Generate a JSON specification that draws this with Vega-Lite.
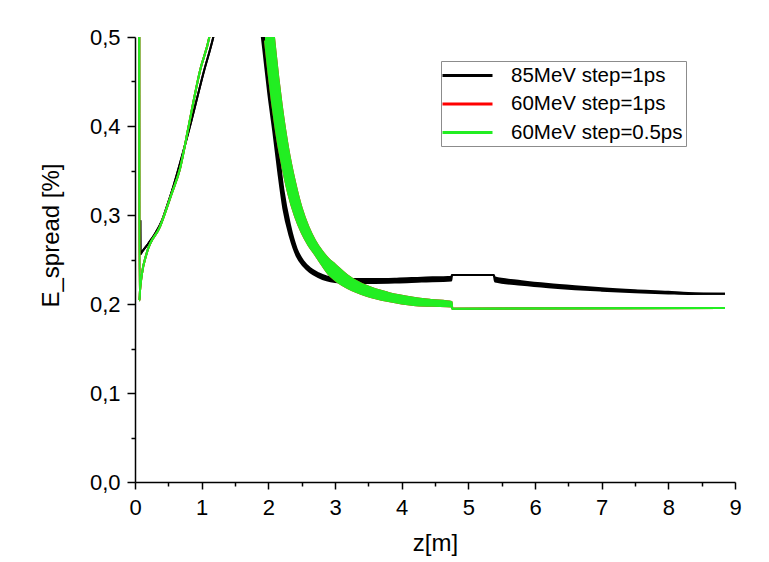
{
  "$schema": "https://vega.github.io/schema/vega-lite/v6.json",
  "width": 600,
  "height": 445,
  "autosize": {"type": "none"},
  "padding": {"left": 135, "top": 37, "right": 34, "bottom": 80},
  "background": "white",
  "config": {
    "view": {"stroke": null},
    "font": "Liberation Sans",
    "axis": {"grid": false, "domainColor": "#000", "domainWidth": 1.5, "tickColor": "#000", "tickWidth": 1.5, "labelColor": "#000", "titleColor": "#000", "labelFont": "Liberation Sans", "titleFont": "Liberation Sans", "titleFontWeight": "normal", "labelFontSize": 22, "titleFontSize": 24, "labelFlush": false},
    "legend": {"orient": "none", "legendX": 306, "legendY": 24, "symbolType": "M-2.5,0H2.5", "symbolStrokeWidth": 3, "symbolSize": 400, "labelFontSize": 20.5, "labelFont": "Liberation Sans", "labelColor": "#000", "labelLimit": 0, "strokeColor": "#8c8c8c", "fillColor": "#fff", "padding": 3, "rowPadding": 6.5, "labelOffset": 32, "symbolOffset": 12}
  },
  "datasets": {
    "d": [
      {"s": "85MeV step=1ps", "b": "L", "z": 0.08, "lo": 0.294, "hi": 0.294},
      {"s": "85MeV step=1ps", "b": "L", "z": 0.083, "lo": 0.256, "hi": 0.256},
      {"s": "85MeV step=1ps", "b": "L", "z": 0.1, "lo": 0.258, "hi": 0.258},
      {"s": "85MeV step=1ps", "b": "L", "z": 0.2, "lo": 0.268, "hi": 0.268},
      {"s": "85MeV step=1ps", "b": "L", "z": 0.3, "lo": 0.279, "hi": 0.279},
      {"s": "85MeV step=1ps", "b": "L", "z": 0.4, "lo": 0.293, "hi": 0.293},
      {"s": "85MeV step=1ps", "b": "L", "z": 0.475, "lo": 0.309, "hi": 0.309},
      {"s": "85MeV step=1ps", "b": "L", "z": 0.575, "lo": 0.332, "hi": 0.332},
      {"s": "85MeV step=1ps", "b": "L", "z": 0.675, "lo": 0.358, "hi": 0.358},
      {"s": "85MeV step=1ps", "b": "L", "z": 0.85, "lo": 0.407, "hi": 0.407},
      {"s": "85MeV step=1ps", "b": "L", "z": 1.025, "lo": 0.459, "hi": 0.459},
      {"s": "85MeV step=1ps", "b": "L", "z": 1.175, "lo": 0.5, "hi": 0.5},
      {"s": "85MeV step=1ps", "b": "L", "z": 1.2, "lo": 0.508, "hi": 0.508},
      {"s": "85MeV step=1ps", "b": "R", "z": 1.9, "lo": 0.5015, "hi": 0.5305},
      {"s": "85MeV step=1ps", "b": "R", "z": 1.925, "lo": 0.4855, "hi": 0.5145},
      {"s": "85MeV step=1ps", "b": "R", "z": 2.0, "lo": 0.436, "hi": 0.464},
      {"s": "85MeV step=1ps", "b": "R", "z": 2.075, "lo": 0.3935, "hi": 0.4205},
      {"s": "85MeV step=1ps", "b": "R", "z": 2.15, "lo": 0.3475, "hi": 0.3745},
      {"s": "85MeV step=1ps", "b": "R", "z": 2.225, "lo": 0.3072, "hi": 0.3288},
      {"s": "85MeV step=1ps", "b": "R", "z": 2.325, "lo": 0.2752, "hi": 0.2888},
      {"s": "85MeV step=1ps", "b": "R", "z": 2.425, "lo": 0.2539, "hi": 0.2621},
      {"s": "85MeV step=1ps", "b": "R", "z": 2.525, "lo": 0.2428, "hi": 0.2482},
      {"s": "85MeV step=1ps", "b": "R", "z": 2.625, "lo": 0.2358, "hi": 0.2404},
      {"s": "85MeV step=1ps", "b": "R", "z": 2.75, "lo": 0.2303, "hi": 0.2347},
      {"s": "85MeV step=1ps", "b": "R", "z": 2.875, "lo": 0.2266, "hi": 0.231},
      {"s": "85MeV step=1ps", "b": "R", "z": 3.0, "lo": 0.2248, "hi": 0.2292},
      {"s": "85MeV step=1ps", "b": "R", "z": 3.275, "lo": 0.2236, "hi": 0.228},
      {"s": "85MeV step=1ps", "b": "R", "z": 3.6, "lo": 0.2236, "hi": 0.228},
      {"s": "85MeV step=1ps", "b": "R", "z": 3.925, "lo": 0.2241, "hi": 0.2285},
      {"s": "85MeV step=1ps", "b": "R", "z": 4.3, "lo": 0.2252, "hi": 0.2296},
      {"s": "85MeV step=1ps", "b": "R", "z": 4.745, "lo": 0.2263, "hi": 0.2307},
      {"s": "85MeV step=1ps", "b": "R", "z": 4.755, "lo": 0.2326, "hi": 0.2326},
      {"s": "85MeV step=1ps", "b": "R", "z": 5.38, "lo": 0.2326, "hi": 0.2326},
      {"s": "85MeV step=1ps", "b": "R", "z": 5.4, "lo": 0.2253, "hi": 0.2297},
      {"s": "85MeV step=1ps", "b": "R", "z": 5.8, "lo": 0.2217, "hi": 0.2257},
      {"s": "85MeV step=1ps", "b": "R", "z": 6.2, "lo": 0.2189, "hi": 0.2225},
      {"s": "85MeV step=1ps", "b": "R", "z": 6.6, "lo": 0.2167, "hi": 0.2199},
      {"s": "85MeV step=1ps", "b": "R", "z": 7.0, "lo": 0.215, "hi": 0.2176},
      {"s": "85MeV step=1ps", "b": "R", "z": 7.5, "lo": 0.2132, "hi": 0.2154},
      {"s": "85MeV step=1ps", "b": "R", "z": 8.0, "lo": 0.2119, "hi": 0.2137},
      {"s": "85MeV step=1ps", "b": "R", "z": 8.3, "lo": 0.2113, "hi": 0.2123},
      {"s": "85MeV step=1ps", "b": "R", "z": 8.85, "lo": 0.2115, "hi": 0.2115},

      {"s": "60MeV step=1ps", "b": "L", "z": 0.064, "lo": 0.5, "hi": 0.5},
      {"s": "60MeV step=1ps", "b": "L", "z": 0.066, "lo": 0.204, "hi": 0.204},
      {"s": "60MeV step=1ps", "b": "L", "z": 0.075, "lo": 0.215, "hi": 0.215},
      {"s": "60MeV step=1ps", "b": "L", "z": 0.1, "lo": 0.232, "hi": 0.232},
      {"s": "60MeV step=1ps", "b": "L", "z": 0.175, "lo": 0.257, "hi": 0.257},
      {"s": "60MeV step=1ps", "b": "L", "z": 0.375, "lo": 0.287, "hi": 0.287},
      {"s": "60MeV step=1ps", "b": "L", "z": 0.55, "lo": 0.324, "hi": 0.324},
      {"s": "60MeV step=1ps", "b": "L", "z": 0.675, "lo": 0.352, "hi": 0.352},
      {"s": "60MeV step=1ps", "b": "L", "z": 0.8, "lo": 0.398, "hi": 0.398},
      {"s": "60MeV step=1ps", "b": "L", "z": 0.9, "lo": 0.436, "hi": 0.436},
      {"s": "60MeV step=1ps", "b": "L", "z": 0.975, "lo": 0.462, "hi": 0.462},
      {"s": "60MeV step=1ps", "b": "L", "z": 1.115, "lo": 0.5, "hi": 0.5},
      {"s": "60MeV step=1ps", "b": "L", "z": 1.14, "lo": 0.51, "hi": 0.51},
      {"s": "60MeV step=1ps", "b": "R", "z": 1.95, "lo": 0.496, "hi": 0.597},
      {"s": "60MeV step=1ps", "b": "R", "z": 2.0, "lo": 0.461, "hi": 0.559},
      {"s": "60MeV step=1ps", "b": "R", "z": 2.05, "lo": 0.4296, "hi": 0.525},
      {"s": "60MeV step=1ps", "b": "R", "z": 2.1, "lo": 0.402, "hi": 0.4888},
      {"s": "60MeV step=1ps", "b": "R", "z": 2.15, "lo": 0.378, "hi": 0.454},
      {"s": "60MeV step=1ps", "b": "R", "z": 2.2, "lo": 0.3585, "hi": 0.4238},
      {"s": "60MeV step=1ps", "b": "R", "z": 2.3, "lo": 0.324, "hi": 0.374},
      {"s": "60MeV step=1ps", "b": "R", "z": 2.4, "lo": 0.2986, "hi": 0.337},
      {"s": "60MeV step=1ps", "b": "R", "z": 2.5, "lo": 0.2802, "hi": 0.3077},
      {"s": "60MeV step=1ps", "b": "R", "z": 2.6, "lo": 0.2664, "hi": 0.2869},
      {"s": "60MeV step=1ps", "b": "R", "z": 2.7, "lo": 0.2557, "hi": 0.2715},
      {"s": "60MeV step=1ps", "b": "R", "z": 2.8, "lo": 0.2445, "hi": 0.26},
      {"s": "60MeV step=1ps", "b": "R", "z": 2.9, "lo": 0.234, "hi": 0.251},
      {"s": "60MeV step=1ps", "b": "R", "z": 3.0, "lo": 0.227, "hi": 0.2445},
      {"s": "60MeV step=1ps", "b": "R", "z": 3.2, "lo": 0.2175, "hi": 0.2315},
      {"s": "60MeV step=1ps", "b": "R", "z": 3.475, "lo": 0.2093, "hi": 0.2202},
      {"s": "60MeV step=1ps", "b": "R", "z": 3.8, "lo": 0.2033, "hi": 0.2125},
      {"s": "60MeV step=1ps", "b": "R", "z": 4.175, "lo": 0.1989, "hi": 0.2071},
      {"s": "60MeV step=1ps", "b": "R", "z": 4.45, "lo": 0.1979, "hi": 0.2045},
      {"s": "60MeV step=1ps", "b": "R", "z": 4.75, "lo": 0.1972, "hi": 0.2022},
      {"s": "60MeV step=1ps", "b": "R", "z": 4.76, "lo": 0.1948, "hi": 0.1948},
      {"s": "60MeV step=1ps", "b": "R", "z": 8.85, "lo": 0.1955, "hi": 0.1955},

      {"s": "60MeV step=0.5ps", "b": "L", "z": 0.064, "lo": 0.5, "hi": 0.5},
      {"s": "60MeV step=0.5ps", "b": "L", "z": 0.066, "lo": 0.204, "hi": 0.204},
      {"s": "60MeV step=0.5ps", "b": "L", "z": 0.075, "lo": 0.215, "hi": 0.215},
      {"s": "60MeV step=0.5ps", "b": "L", "z": 0.1, "lo": 0.232, "hi": 0.232},
      {"s": "60MeV step=0.5ps", "b": "L", "z": 0.175, "lo": 0.257, "hi": 0.257},
      {"s": "60MeV step=0.5ps", "b": "L", "z": 0.375, "lo": 0.287, "hi": 0.287},
      {"s": "60MeV step=0.5ps", "b": "L", "z": 0.55, "lo": 0.324, "hi": 0.324},
      {"s": "60MeV step=0.5ps", "b": "L", "z": 0.675, "lo": 0.352, "hi": 0.352},
      {"s": "60MeV step=0.5ps", "b": "L", "z": 0.8, "lo": 0.398, "hi": 0.398},
      {"s": "60MeV step=0.5ps", "b": "L", "z": 0.9, "lo": 0.436, "hi": 0.436},
      {"s": "60MeV step=0.5ps", "b": "L", "z": 0.975, "lo": 0.462, "hi": 0.462},
      {"s": "60MeV step=0.5ps", "b": "L", "z": 1.115, "lo": 0.5, "hi": 0.5},
      {"s": "60MeV step=0.5ps", "b": "L", "z": 1.14, "lo": 0.51, "hi": 0.51},
      {"s": "60MeV step=0.5ps", "b": "R", "z": 1.95, "lo": 0.496, "hi": 0.597},
      {"s": "60MeV step=0.5ps", "b": "R", "z": 2.0, "lo": 0.461, "hi": 0.559},
      {"s": "60MeV step=0.5ps", "b": "R", "z": 2.05, "lo": 0.4296, "hi": 0.525},
      {"s": "60MeV step=0.5ps", "b": "R", "z": 2.1, "lo": 0.402, "hi": 0.4888},
      {"s": "60MeV step=0.5ps", "b": "R", "z": 2.15, "lo": 0.378, "hi": 0.454},
      {"s": "60MeV step=0.5ps", "b": "R", "z": 2.2, "lo": 0.3585, "hi": 0.4238},
      {"s": "60MeV step=0.5ps", "b": "R", "z": 2.3, "lo": 0.324, "hi": 0.374},
      {"s": "60MeV step=0.5ps", "b": "R", "z": 2.4, "lo": 0.2986, "hi": 0.337},
      {"s": "60MeV step=0.5ps", "b": "R", "z": 2.5, "lo": 0.2802, "hi": 0.3077},
      {"s": "60MeV step=0.5ps", "b": "R", "z": 2.6, "lo": 0.2664, "hi": 0.2869},
      {"s": "60MeV step=0.5ps", "b": "R", "z": 2.7, "lo": 0.2557, "hi": 0.2715},
      {"s": "60MeV step=0.5ps", "b": "R", "z": 2.8, "lo": 0.2445, "hi": 0.26},
      {"s": "60MeV step=0.5ps", "b": "R", "z": 2.9, "lo": 0.234, "hi": 0.251},
      {"s": "60MeV step=0.5ps", "b": "R", "z": 3.0, "lo": 0.227, "hi": 0.2445},
      {"s": "60MeV step=0.5ps", "b": "R", "z": 3.2, "lo": 0.2175, "hi": 0.2315},
      {"s": "60MeV step=0.5ps", "b": "R", "z": 3.475, "lo": 0.2093, "hi": 0.2202},
      {"s": "60MeV step=0.5ps", "b": "R", "z": 3.8, "lo": 0.2033, "hi": 0.2125},
      {"s": "60MeV step=0.5ps", "b": "R", "z": 4.175, "lo": 0.1989, "hi": 0.2071},
      {"s": "60MeV step=0.5ps", "b": "R", "z": 4.45, "lo": 0.1979, "hi": 0.2045},
      {"s": "60MeV step=0.5ps", "b": "R", "z": 4.75, "lo": 0.1972, "hi": 0.2022},
      {"s": "60MeV step=0.5ps", "b": "R", "z": 4.76, "lo": 0.1948, "hi": 0.1948},
      {"s": "60MeV step=0.5ps", "b": "R", "z": 8.85, "lo": 0.1955, "hi": 0.1955}
    ]
  },
  "data": {"name": "d"},
  "layer": [
    {
      "mark": {"type": "line", "strokeOpacity": 0},
      "encoding": {
        "x": {"field": "z", "type": "quantitative", "scale": {"domain": [0, 9], "nice": false, "zero": false, "padding": 0},
              "axis": {"orient": "bottom", "values": [0.5, 1.5, 2.5, 3.5, 4.5, 5.5, 6.5, 7.5, 8.5], "tickSize": 4, "labels": false, "domain": false, "title": null}},
        "y": {"field": "lo", "type": "quantitative", "scale": {"domain": [0, 0.5], "nice": false, "padding": 0},
              "axis": {"orient": "left", "values": [0.05, 0.15, 0.25, 0.35, 0.45], "tickSize": 4, "labels": false, "domain": false, "title": null}},
        "detail": {"field": "s"}
      }
    },
    {
      "encoding": {
        "x": {"field": "z", "type": "quantitative", "scale": {"domain": [0, 9], "nice": false, "zero": false, "padding": 0},
              "axis": {"orient": "bottom", "values": [0, 1, 2, 3, 4, 5, 6, 7, 8, 9], "format": "d", "tickSize": 7, "labelPadding": 8, "labelFlush": false, "title": "z[m]", "titleBaseline": "alphabetic", "titleY": 68}},
        "color": {"field": "s", "type": "nominal", "scale": {"domain": ["85MeV step=1ps", "60MeV step=1ps", "60MeV step=0.5ps"], "range": ["#000000", "#ff0000", "#22ee22"]}, "legend": {"title": null}},
        "detail": {"field": "b"}
      },
      "layer": [
        {
          "transform": [{"filter": "datum.s === '85MeV step=1ps'"}],
          "layer": [
            {"mark": {"type": "area", "clip": true, "interpolate": "monotone"},
             "encoding": {"y": {"field": "lo", "type": "quantitative", "scale": {"domain": [0, 0.5], "nice": false, "padding": 0}, "title": "E_spread [%]", "axis": {"orient": "left", "values": [0, 0.1, 0.2, 0.3, 0.4, 0.5], "labelExpr": "replace(format(datum.value,'.1f'),'.',',')", "tickSize": 8, "labelPadding": 7, "labelFlush": false, "title": "E_spread [%]", "titleX": -77, "titleY": 198, "titleBaseline": "alphabetic", "titleAngle": 270}}, "y2": {"field": "hi"}}},
            {"mark": {"type": "line", "clip": true, "strokeWidth": 2, "interpolate": "monotone"},
             "encoding": {"y": {"field": "lo", "type": "quantitative", "title": "E_spread [%]"}}},
            {"mark": {"type": "line", "clip": true, "strokeWidth": 2, "interpolate": "monotone"},
             "encoding": {"y": {"field": "hi", "type": "quantitative", "title": "E_spread [%]"}}}
          ]
        },
        {
          "transform": [{"filter": "datum.s === '60MeV step=1ps'"}],
          "layer": [
            {"mark": {"type": "area", "clip": true, "interpolate": "monotone"},
             "encoding": {"y": {"field": "lo", "type": "quantitative", "title": "E_spread [%]"}, "y2": {"field": "hi"}}},
            {"mark": {"type": "line", "clip": true, "strokeWidth": 2, "interpolate": "monotone"},
             "encoding": {"y": {"field": "lo", "type": "quantitative", "title": "E_spread [%]"}}},
            {"mark": {"type": "line", "clip": true, "strokeWidth": 2, "interpolate": "monotone"},
             "encoding": {"y": {"field": "hi", "type": "quantitative", "title": "E_spread [%]"}}}
          ]
        },
        {
          "transform": [{"filter": "datum.s === '60MeV step=0.5ps'"}],
          "layer": [
            {"mark": {"type": "area", "clip": true, "interpolate": "monotone"},
             "encoding": {"y": {"field": "lo", "type": "quantitative", "title": "E_spread [%]"}, "y2": {"field": "hi"}}},
            {"mark": {"type": "line", "clip": true, "strokeWidth": 2, "interpolate": "monotone"},
             "encoding": {"y": {"field": "lo", "type": "quantitative", "title": "E_spread [%]"}}},
            {"mark": {"type": "line", "clip": true, "strokeWidth": 2, "interpolate": "monotone"},
             "encoding": {"y": {"field": "hi", "type": "quantitative", "title": "E_spread [%]"}}}
          ]
        }
      ]
    }
  ],
  "resolve": {"axis": {"x": "independent", "y": "independent"}}
}
